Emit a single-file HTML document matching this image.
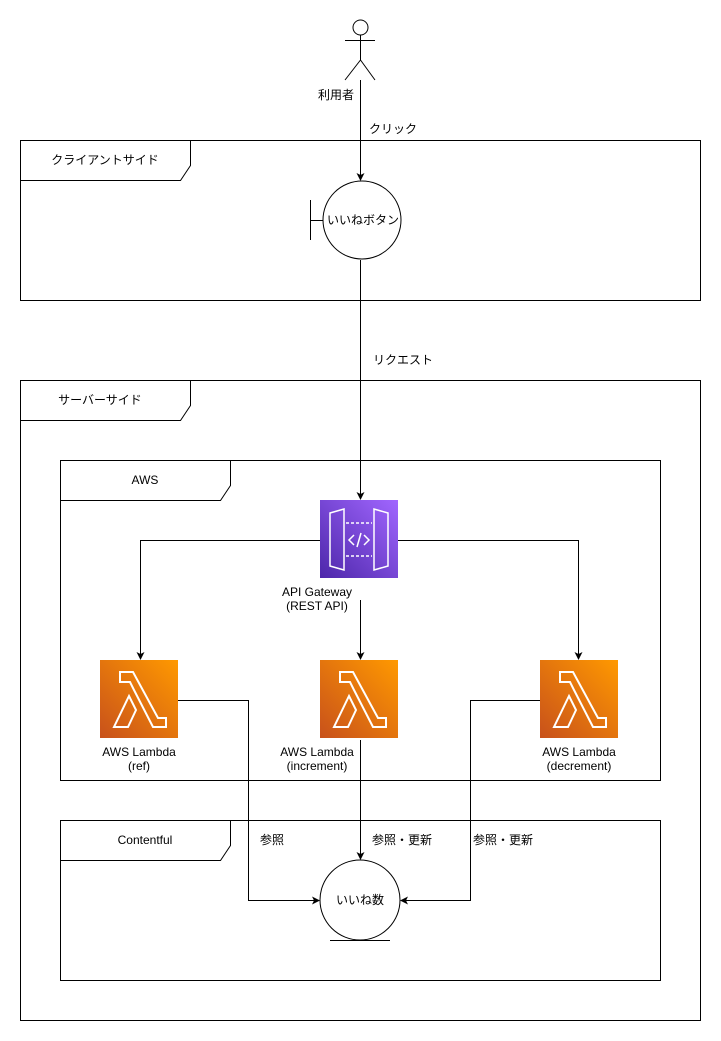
<!DOCTYPE html>
<html><head><meta charset="utf-8"><style>
html,body{margin:0;padding:0;background:#fff;}
svg{display:block;}
text{font-family:"Liberation Sans","Noto Sans CJK JP",sans-serif;font-size:12px;fill:#000;}
</style></head><body>
<svg width="721" height="1041" viewBox="0 0 721 1041" xmlns="http://www.w3.org/2000/svg">
<defs>
<linearGradient id="pg" x1="0" y1="1" x2="1" y2="0"><stop offset="0" stop-color="#4d27aa"/><stop offset="1" stop-color="#a166ff"/></linearGradient>
<linearGradient id="og" x1="0" y1="1" x2="1" y2="0"><stop offset="0" stop-color="#c8511b"/><stop offset="1" stop-color="#ff9900"/></linearGradient>
<marker id="a" markerWidth="8" markerHeight="8" refX="7" refY="4" orient="auto" markerUnits="userSpaceOnUse"><path d="M0,0 L8,4 L0,8 L2,4 Z" fill="#000"/></marker>
<g id="lam"><rect width="78" height="78" fill="url(#og)"/><path d="M20,12 L33,12 L58,58 L66,58 L66,67 L53,67 L34,30 L30,22 L20,22 Z M29,36 L36,50 L28,67 L14,67 Z" fill="none" stroke="#fff" stroke-width="2" stroke-linejoin="miter"/></g>
</defs>
<g fill="none" stroke="#000" stroke-width="1">
<!-- frames -->
<rect x="20.5" y="140.5" width="680" height="160"/>
<path d="M20.5,180.5 H180.5 L190.5,165.5 V140.5"/>
<rect x="20.5" y="380.5" width="680" height="640"/>
<path d="M20.5,420.5 H180.5 L190.5,405.5 V380.5"/>
<rect x="60.5" y="460.5" width="600" height="320"/>
<path d="M60.5,500.5 H220.5 L230.5,485.5 V460.5"/>
<rect x="60.5" y="820.5" width="600" height="160"/>
<path d="M60.5,860.5 H220.5 L230.5,845.5 V820.5"/>
<!-- actor -->
<circle cx="360.5" cy="27.5" r="7.5"/>
<path d="M360.5,35 V60 M345,40.5 H375 M360.5,60 L345,80 M360.5,60 L375,80"/>
<!-- button -->
<circle cx="362" cy="220" r="39"/>
<path d="M310.5,200 V240 M310.5,220.5 H323"/>
<!-- entity -->
<circle cx="360" cy="900" r="40"/>
<path d="M330,940.5 H390"/>
<!-- connectors -->
<path d="M360.5,80 V180" marker-end="url(#a)"/>
<path d="M360.5,260 V499" marker-end="url(#a)"/>
<path d="M320,540.5 H140.5 V659" marker-end="url(#a)"/>
<path d="M398,540.5 H578.5 V659" marker-end="url(#a)"/>
<path d="M360.5,600 V659" marker-end="url(#a)"/>
<path d="M178,700.5 H248.5 V900.5 H319" marker-end="url(#a)"/>
<path d="M360.5,740 V859" marker-end="url(#a)"/>
<path d="M540,700.5 H470.5 V900.5 H401" marker-end="url(#a)"/>
</g>
<!-- API gateway -->
<rect x="320" y="500" width="78" height="78" fill="url(#pg)"/>
<g fill="none" stroke="#fff" stroke-width="1.5">
<path d="M330,513 L344,509 V570 L330,566 Z"/>
<path d="M388,513 L374,509 V570 L388,566 Z"/>
<path d="M346,523 H372 M346,556 H372" stroke-dasharray="3,2"/>
<path d="M354,535 L349,540 L354,545 M364,535 L369,540 L364,545 M361,533 L357,547"/>
</g>
<use href="#lam" x="100" y="660"/>
<use href="#lam" x="320" y="660"/>
<use href="#lam" x="540" y="660"/>
<!-- labels -->
<text x="336" y="99" text-anchor="middle">利用者</text>
<text x="369" y="133">クリック</text>
<text x="105" y="164" text-anchor="middle">クライアントサイド</text>
<text x="363" y="224" text-anchor="middle" fill="#333">いいねボタン</text>
<text x="373" y="364">リクエスト</text>
<text x="100" y="404" text-anchor="middle">サーバーサイド</text>
<text x="145" y="484" text-anchor="middle">AWS</text>
<text x="317" y="596" text-anchor="middle">API Gateway</text>
<text x="317" y="610" text-anchor="middle">(REST API)</text>
<text x="139" y="756" text-anchor="middle">AWS Lambda</text>
<text x="139" y="770" text-anchor="middle">(ref)</text>
<text x="317" y="756" text-anchor="middle">AWS Lambda</text>
<text x="317" y="770" text-anchor="middle">(increment)</text>
<text x="579" y="756" text-anchor="middle">AWS Lambda</text>
<text x="579" y="770" text-anchor="middle">(decrement)</text>
<text x="145" y="844" text-anchor="middle">Contentful</text>
<text x="260" y="844">参照</text>
<text x="372" y="844">参照・更新</text>
<text x="473" y="844">参照・更新</text>
<text x="360" y="904" text-anchor="middle" fill="#333">いいね数</text>
</svg>
</body></html>
